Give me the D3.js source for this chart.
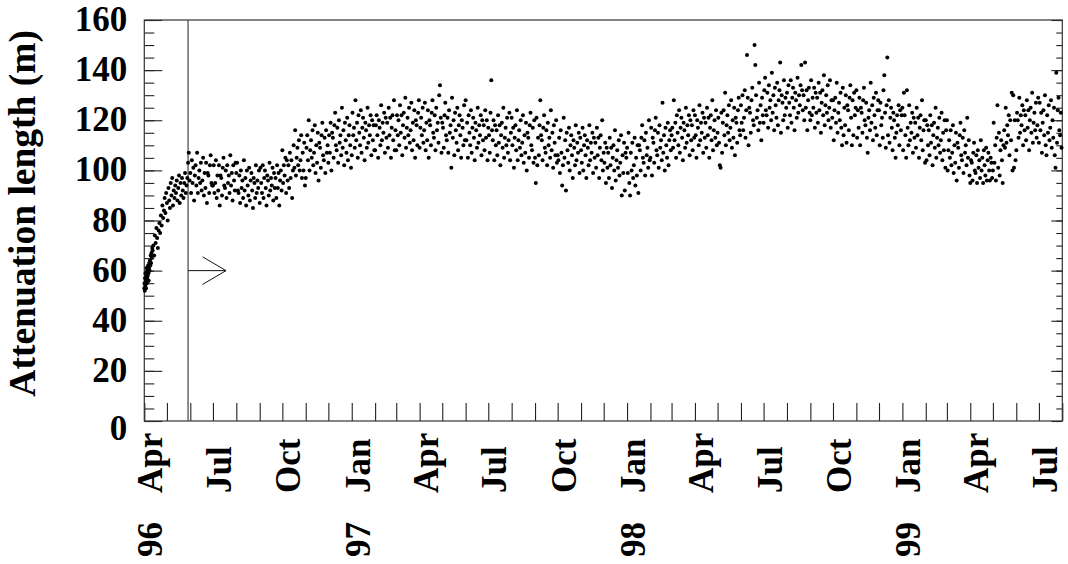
<!DOCTYPE html>
<html><head><meta charset="utf-8">
<script src="https://cdn.jsdelivr.net/npm/d3@7"></script>
<style>body{margin:0;background:#fff}svg{display:block}</style>
</head><body><svg id="c" width="1068" height="564"></svg>
<script>
// early running-in period: day offsets from 1996-04-01 and attenuation lengths (m)
const earlyOffsets = [0,0.3,0.6,1,1.3,1.6,2,2.3,2.7,3,3.4,3.8,4.2,4.6,5,5.4,5.8,6.2,6.6,7,7.5,8,8.5,9,9.5,10,10.5,11,
  12,13,14,15,16,17,18,19,20,21,22,23,24,25,26,27,28,29,30,31,32,33,34,35,36,37,38,39,40,41,42,43,44,45,46,47,48,49,50,51,52,53,54,55,56,57];
const earlyLengths = [53,55,52,57,54,59,56,53,58,61,55,57,60,58,62,59,56,61,63,60,64,62,66,63,67,65,69,68,
  70,66,74,71,77,73,69,76,79,75, 82,78,86,81,84,89,83,91,87,80, 93,88,85,95,90,97,86,92,89,94,
  91,96,88,93,98,87,95,90,97,92, 89,95,99,91,94,97];

// daily values (m)
const len1996 = [ // from 1996-05-29
  103,107,96,
  99,91,104,95,101,88,98,102,94,107,91,97,100,95,103,92,96,105,90,99,93,103,87,99,98,91,102,106,95,94,
  94,102,91,95,104,89,98,92,102,86,98,97,90,101,105,94,93,100,89,102,95,98,91,106,94,99,88,102,96,92,103,
  99,103,92,91,98,87,100,93,96,89,104,92,97,86,100,94,90,101,88,96,99,92,85,97,95,89,102,91,96,93,100,
  87,101,95,91,102,89,97,100,93,86,98,96,90,103,92,97,94,101,88,99,93,97,89,102,93,99,86,96,100,92,
  108,95,102,98,105,91,104,96,102,93,107,97,104,89,100,110,101,116,98,105,109,102,112,100,104,114,97,107,100,111,94,
  97,109,114,104,120,100,108,112,105,116,102,107,118,99,110,103,115,96,111,109,101,114,119,106,104,113,99,116,107,110,
  103,114,107,119,100,115,113,105,118,123,110,108,117,103,120,111,114,106,125,109,116,102,119,112,107,121,104,114,118,110,101];
const len1997 = [ // from 1997-01-01
  106,123,114,117,109,128,112,119,105,122,115,110,124,107,117,121,113,104,119,116,109,125,111,118,114,122,106,120,112,118,108,
  108,118,122,114,105,120,117,110,126,112,119,115,123,107,121,113,119,109,125,114,121,105,117,122,112,128,108,116,
  108,122,114,120,110,126,115,122,106,118,123,113,129,109,117,121,114,125,111,116,127,108,119,112,124,105,120,118,110,123,128,
  109,117,121,114,125,111,116,127,108,119,112,124,105,120,118,110,123,128,115,113,122,108,125,116,119,111,130,134,121,107,
  119,117,109,122,127,114,112,121,107,124,115,118,101,129,113,120,106,123,116,111,125,108,118,122,114,105,120,117,110,126,112,
  128,112,119,105,122,115,110,124,107,117,121,113,104,119,116,109,125,111,118,114,122,106,120,112,118,108,124,113,120,104,
  117,114,107,123,136,116,112,120,104,118,110,116,106,122,111,118,102,114,119,109,125,105,113,117,110,121,107,112,123,104,115,
  121,110,117,101,113,118,108,124,104,112,116,109,120,106,111,122,103,114,107,119,100,115,113,105,118,123,110,108,117,103,120,
  105,95,121,102,113,106,118,128,114,112,104,117,122,109,107,116,102,119,110,113,105,124,108,115,101,118,111,106,120,103,
  106,104,113,99,116,107,94,102,121,105,112,92,115,108,103,117,100,110,114,106,97,112,109,102,118,104,111,107,115,99,113,
  108,103,117,100,110,114,106,97,112,109,102,118,104,111,107,115,99,113,105,111,101,117,106,113,97,109,114,104,120,100,
  107,103,111,95,109,101,107,97,113,102,109,93,105,110,100,116,96,104,108,101,112,98,103,114,90,106,99,111,92,107,105];
const len1998 = [ // from 1998-01-01
  109,99,115,95,90,107,100,111,97,102,113,94,105,98,110,91,110,108,100,113,118,105,103,112,98,115,106,109,101,120,104,
  105,117,98,113,111,103,116,121,108,106,115,101,118,109,112,104,127,107,114,100,117,110,105,119,102,112,116,108,
  114,117,109,128,112,119,105,122,115,110,124,107,117,121,113,104,119,116,109,125,111,118,114,122,106,120,112,118,108,124,113,
  122,114,105,120,117,110,126,112,119,115,123,107,121,113,119,109,125,114,121,105,117,122,112,128,108,116,120,113,124,110,
  115,121,111,102,101,123,107,119,124,114,131,110,118,122,115,126,112,117,128,109,120,113,125,106,121,119,111,124,129,116,114,
  126,119,130,116,121,132,113,124,146,129,110,125,123,115,128,133,120,118,150,142,130,121,124,116,135,119,126,112,129,122,
  119,132,137,124,122,131,117,134,125,128,120,139,123,130,116,133,126,121,135,118,128,132,143,115,130,127,120,136,122,129,125,
  131,117,134,127,122,136,119,129,133,125,116,131,128,121,137,123,130,126,134,142,132,124,130,120,143,125,132,116,128,133,123,
  120,136,122,129,125,133,117,131,123,129,119,135,124,131,115,127,132,122,138,118,126,130,123,134,120,125,136,117,128,121,
  128,112,124,129,119,135,115,123,127,120,131,117,110,133,114,125,118,130,111,126,124,116,129,134,121,110,128,114,131,122,125,
  132,113,124,117,129,110,125,123,115,128,133,120,118,127,113,107,121,124,116,135,119,126,112,129,122,117,131,114,124,128,
  124,110,127,118,121,113,132,138,123,109,126,145,114,128,111,121,125,117,108,123,120,113,105,115,122,118,126,110,124,116,122];
const len1999 = [ // from 1999-01-01
  125,108,131,122,114,105,132,117,110,126,112,119,115,123,107,121,113,119,109,125,114,121,105,117,122,112,128,108,116,120,103,
  120,104,118,110,116,106,122,111,118,102,114,119,109,125,105,113,117,110,121,107,112,123,104,115,108,120,101,116,
  120,100,108,112,105,116,102,107,118,99,110,103,115,96,111,109,101,114,119,106,104,113,99,116,107,110,102,121,105,112,98,
  95,104,103,96,107,111,100,99,106,95,108,101,104,97,112,100,105,95,108,102,98,109,96,104,107,100,96,105,103,97,
  100,119,103,110,96,113,126,101,115,98,108,112,104,95,110,116,109,125,111,118,114,122,106,120,112,131,100,130,101,120,104,
  108,123,120,113,129,115,122,118,126,110,124,116,122,112,128,117,124,108,120,125,115,131,111,119,123,116,127,113,118,129,
  111,127,116,123,107,119,124,114,130,110,106,122,115,126,112,117,128,109,120,113,125,106,101,139,111,124,129,116,114,123,109];
const dailySeries = [len1996, len1997, len1998, len1999];
const seriesStarts = ["1996-05-29", "1997-01-01", "1998-01-01", "1999-01-01"];

const monthLabels = ["Apr","Jul","Oct","Jan","Apr","Jul","Oct","Jan","Apr","Jul","Oct","Jan","Apr","Jul"];
const monthLabelDates = ["1996-04-01","1996-07-01","1996-10-01","1997-01-01","1997-04-01","1997-07-01","1997-10-01",
  "1998-01-01","1998-04-01","1998-07-01","1998-10-01","1999-01-01","1999-04-01","1999-07-01"];
const yearLabels = ["96","97","98","99"];
const yearLabelDates = ["1996-04-01","1997-01-01","1998-01-01","1999-01-01"];
const yTicks = [0,20,40,60,80,100,120,140,160];
const yMinorTicks = d3.range(0, 161, 5);
const axisStart = "1996-04-01", axisEnd = "1999-08-01";
const markerDate = "1996-05-29", markerValue = 60;
const yTitle = "Attenuation length (m)";

const parse = s => new Date(s + "T00:00:00Z");
const DAY = 864e5;
const points = [];
const t0 = parse(axisStart).getTime();
earlyOffsets.forEach((o, i) => points.push({t: new Date(t0 + o * DAY), v: earlyLengths[i]}));
dailySeries.forEach((arr, k) => {
  const s = parse(seriesStarts[k]).getTime();
  arr.forEach((v, i) => { if (v != null) points.push({t: new Date(s + i * DAY), v}); });
});

const L = 144.3, R = 1062.3, T = 20, B = 421;
const x = d3.scaleUtc().domain([parse(axisStart), parse(axisEnd)]).range([L, R]);
const y = d3.scaleLinear().domain([0, 160]).range([B, T]);

const svg = d3.select("#c");
const FONT = "'Liberation Serif','Times New Roman',serif";
const axisCol = "#222";

function styleAxis(g) {
  g.select(".domain").remove();
  g.selectAll("line").attr("stroke", axisCol).attr("stroke-width", 1.1);
  g.selectAll("text").attr("font-family", FONT).attr("font-weight", "bold").attr("font-size", 35).attr("fill", "#000");
}

svg.append("g").attr("transform", `translate(0,${B})`)
  .call(d3.axisBottom(x).ticks(d3.utcMonth.every(1)).tickSize(-18).tickFormat(""))
  .call(styleAxis);
svg.append("g").attr("transform", `translate(${L},0)`)
  .call(d3.axisLeft(y).tickValues(yMinorTicks).tickSize(-10).tickFormat(""))
  .call(styleAxis);
const yl = svg.append("g").attr("transform", `translate(${L},0)`)
  .call(d3.axisLeft(y).tickValues(yTicks).tickSize(-18).tickPadding(17).tickFormat(d3.format("d")))
  .call(styleAxis);
yl.selectAll("text").attr("dy", d => d === 0 ? "0.52em" : "0.3em");
svg.append("g").attr("transform", `translate(${R},0)`)
  .call(d3.axisRight(y).tickValues(yMinorTicks).tickSize(-6).tickFormat(""))
  .call(styleAxis);
svg.append("g").attr("transform", `translate(${R},0)`)
  .call(d3.axisRight(y).tickValues(yTicks).tickSize(-11).tickFormat(""))
  .call(styleAxis);

svg.append("rect").attr("x", L).attr("y", T).attr("width", R - L).attr("height", B - T)
  .attr("fill", "none").attr("stroke", "#333").attr("stroke-width", 1.2);

const mx = x(parse(markerDate)), my = y(markerValue);
svg.append("line").attr("x1", mx).attr("x2", mx).attr("y1", T).attr("y2", B)
  .attr("stroke", "#444").attr("stroke-width", 1.2);
svg.append("path")
  .attr("d", `M${mx},${my}H${mx + 38}M${mx + 14.5},${my - 13.8}L${mx + 38},${my}L${mx + 14.5},${my + 13.8}`)
  .attr("fill", "none").attr("stroke", "#111").attr("stroke-width", 1);

svg.append("g").selectAll("circle").data(points).join("circle")
  .attr("cx", d => x(d.t)).attr("cy", d => y(d.v)).attr("r", 2).attr("fill", "#000");

svg.append("g").selectAll("text").data(monthLabels).join("text")
  .attr("transform", (d, i) => `translate(${x(parse(monthLabelDates[i])) + 18},493) rotate(-90)`)
  .attr("font-family", FONT).attr("font-weight", "bold").attr("font-size", 35)
  .attr("text-anchor", "start").text(d => d);
svg.append("g").selectAll("text").data(yearLabels).join("text")
  .attr("transform", (d, i) => `translate(${x(parse(yearLabelDates[i])) + 18},557) rotate(-90)`)
  .attr("font-family", FONT).attr("font-weight", "bold").attr("font-size", 35)
  .attr("text-anchor", "start").text(d => d);
svg.append("text").attr("transform", "translate(35,30) rotate(-90)")
  .attr("font-family", FONT).attr("font-weight", "bold").attr("font-size", 37.5)
  .attr("text-anchor", "end").text(yTitle);
</script></body></html>
